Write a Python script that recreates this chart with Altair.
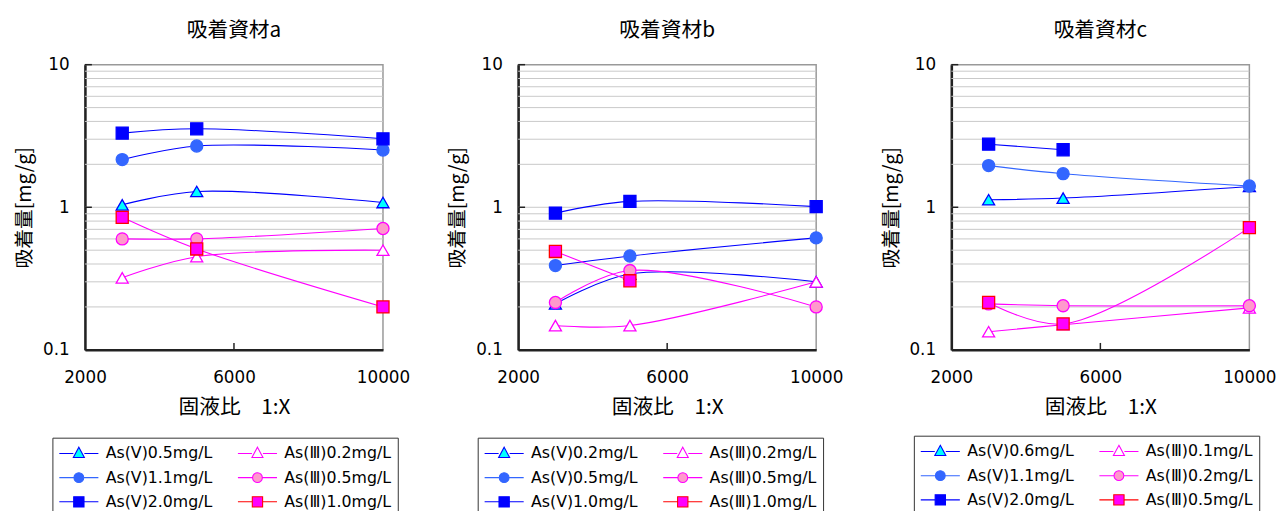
import altair as alt
import pandas as pd

# ---------------- data ----------------
x_vals = [3000, 5000, 10000]

# panel a
a_names = ["As(V)0.5mg/L", "As(V)1.1mg/L", "As(V)2.0mg/L", "As(Ⅲ)0.2mg/L", "As(Ⅲ)0.5mg/L", "As(Ⅲ)1.0mg/L"]
a_v05 = [1.04, 1.29, 1.08]
a_v11 = [2.16, 2.69, 2.52]
a_v20 = [3.31, 3.55, 3.02]
a_iii02 = [0.32, 0.45, 0.50]
a_iii05 = [0.60, 0.60, 0.71]
a_iii10 = [0.85, 0.51, 0.20]

# panel b
b_names = ["As(V)0.2mg/L", "As(V)0.5mg/L", "As(V)1.0mg/L", "As(Ⅲ)0.2mg/L", "As(Ⅲ)0.5mg/L", "As(Ⅲ)1.0mg/L"]
b_v02 = [0.21, 0.34, 0.30]
b_v05 = [0.39, 0.455, 0.61]
b_v10 = [0.91, 1.10, 1.01]
b_iii02 = [0.148, 0.148, 0.30]
b_iii05 = [0.215, 0.36, 0.20]
b_iii10 = [0.49, 0.305, None]

# panel c
c_names = ["As(V)0.6mg/L", "As(V)1.1mg/L", "As(V)2.0mg/L", "As(Ⅲ)0.1mg/L", "As(Ⅲ)0.2mg/L", "As(Ⅲ)0.5mg/L"]
c_v06 = [1.13, 1.16, 1.40]
c_v11 = [1.96, 1.72, 1.41]
c_v20 = [2.77, 2.53, None]
c_iii01 = [0.134, 0.15, 0.197]
c_iii02 = [0.21, 0.204, 0.204]
c_iii05 = [0.215, 0.152, 0.72]

titles = ["吸着資材a", "吸着資材b", "吸着資材c"]
y_ticks = [0.1, 1, 10]
x_ticks = [2000, 6000, 10000]
grid_vals = [0.2, 0.3, 0.4, 0.5, 0.6, 0.7, 0.8, 0.9, 1, 2, 3, 4, 5, 6, 7, 8, 9]

# styles (order: V-tri, V-circ, V-sq, III-tri, III-circ, III-sq)
line_cols = ["#0000FF", "#0000FF", "#0000FF", "#FF00FF", "#FF00FF", "#FF00FF"]
line_cols_c = ["#0000FF", "#3366FF", "#0000FF", "#FF00FF", "#FF00FF", "#FF00FF"]
fill_cols = ["#00FFFF", "#3366FF", "#0000FF", "#FFFFFF", "#FF99CC", "#FF00FF"]
stroke_cols = ["#0000FF", "#3366FF", "#0000FF", "#FF00FF", "#FF00FF", "#FF0000"]
shapes = ["triangle-up", "circle", "square", "triangle-up", "circle", "square"]

# legend glyphs: line segment with marker in the middle (marker centred at 1.2)
TRI = "M-1,0H0.58 M1.82,0H3.4 M1.2,-0.7L1.82,0.45L0.58,0.45Z"
CIR = "M-1,0H0.65 M1.75,0H3.4 M1.75,0A0.55,0.55 0 1,1 0.65,0A0.55,0.55 0 1,1 1.75,0Z"
SQ = "M-1,0H0.62 M1.78,0H3.4 M0.62,-0.58H1.78V0.58H0.62Z"
legend_paths = [TRI, CIR, SQ, TRI, CIR, SQ]

FONT = "Noto Sans CJK JP"
LFONT = "DejaVu Sans"

W, H = 302, 289


def make_df(names, series):
    rows = []
    for name, vals in zip(names, series):
        for xv, yv in zip(x_vals, vals):
            if yv is not None:
                rows.append({"x": xv, "y": yv, "series": name})
    return pd.DataFrame(rows)


def panel(title, names, series, lcols, scols, lx, ly):
    df = make_df(names, series)
    xs = alt.Scale(domain=[2000, 10000], nice=False, zero=False)
    ys = alt.Scale(type="log", domain=[0.1, 10], nice=False)

    xax = alt.Axis(values=x_ticks, title="固液比　1:X", grid=False, ticks=False,
                   domainColor="#222222", domainWidth=2.5, labelFontSize=17,
                   labelFont=LFONT, labelColor="#000", labelPadding=20,
                   titleFontSize=21, titleFont=FONT, titleFontWeight="normal",
                   titlePadding=11, titleColor="#000", format="d", labelFlush=False)
    yax = alt.Axis(values=y_ticks, title="吸着量[mg/g]", grid=False, ticks=False,
                   domainColor="#222222", domainWidth=2.5, labelFontSize=17,
                   labelFont=LFONT, labelColor="#000", labelPadding=16,
                   titleFontSize=20, titleFont=FONT, titleFontWeight="normal",
                   titlePadding=8, titleColor="#000",
                   labelExpr="datum.value >= 1 ? format(datum.value, 'd') : '0.1'")

    grid = alt.Chart(pd.DataFrame({"g": grid_vals})).mark_rule(
        color="#C8C8C8", strokeWidth=1
    ).encode(y=alt.Y("g:Q", scale=ys, axis=yax))

    yt = alt.Chart(pd.DataFrame({"t": y_ticks})).mark_rule(
        color="#222222", strokeWidth=1.5
    ).encode(
        y=alt.Y("t:Q", scale=ys, axis=yax),
        x=alt.value(0), x2=alt.value(7),
    )
    xt = alt.Chart(pd.DataFrame({"t": [6000]})).mark_rule(
        color="#222222", strokeWidth=1.5
    ).encode(
        x=alt.X("t:Q", scale=xs, axis=xax),
        y=alt.value(H), y2=alt.value(H - 7),
    )

    lines = alt.Chart(df).mark_line(strokeWidth=1.1, interpolate="catmull-rom").encode(
        x=alt.X("x:Q", scale=xs, axis=xax),
        y=alt.Y("y:Q", scale=ys, axis=yax),
        color=alt.Color("series:N", scale=alt.Scale(domain=names, range=lcols), legend=None),
        detail="series:N",
    )

    pts = alt.Chart(df).mark_point(filled=False, opacity=1, strokeWidth=1.3).encode(
        x=alt.X("x:Q", scale=xs, axis=xax),
        y=alt.Y("y:Q", scale=ys, axis=yax),
        shape=alt.Shape("series:N", scale=alt.Scale(domain=names, range=shapes), legend=None),
        fill=alt.Fill("series:N", scale=alt.Scale(domain=names, range=fill_cols), legend=None),
        stroke=alt.Stroke("series:N", scale=alt.Scale(domain=names, range=scols), legend=None),
        size=alt.value(150),
    )

    leg = alt.Chart(df.assign(lg=df["series"])).transform_filter("false").mark_point(
        filled=False, opacity=1, strokeWidth=1.1
    ).encode(
        x=alt.X("x:Q", scale=xs, axis=xax),
        y=alt.Y("y:Q", scale=ys, axis=yax),
        shape=alt.Shape("lg:N", scale=alt.Scale(domain=names, range=legend_paths),
                        legend=alt.Legend(title=None, orient="none", legendX=lx, legendY=ly,
                                          columns=2, strokeColor="#333333", padding=6,
                                          symbolSize=324, labelFontSize=16, labelFont=LFONT,
                                          labelColor="#000", labelOffset=28, columnPadding=22,
                                          rowPadding=6.5, symbolStrokeWidth=1.1,
                                          labelLimit=220, offset=0)),
        fill=alt.Fill("lg:N", scale=alt.Scale(domain=names, range=fill_cols)),
        stroke=alt.Stroke("lg:N", scale=alt.Scale(domain=names, range=scols)),
    )

    return alt.layer(grid, yt, xt, lines, pts, leg).resolve_scale(
        color="independent", shape="independent", fill="independent", stroke="independent"
    ).properties(
        width=W, height=H,
        title=alt.Title(title, fontSize=21, font=FONT, fontWeight="normal", offset=15, color="#000"),
    )


pa = panel(titles[0], a_names, [a_v05, a_v11, a_v20, a_iii02, a_iii05, a_iii10],
           line_cols, stroke_cols, -33, 378)
pb = panel(titles[1], b_names, [b_v02, b_v05, b_v10, b_iii02, b_iii05, b_iii10],
           line_cols, stroke_cols, -41, 378)
pc = panel(titles[2], c_names, [c_v06, c_v11, c_v20, c_iii01, c_iii02, c_iii05],
           line_cols_c, stroke_cols, -38, 376)

chart = alt.hconcat(pa, pb, pc, spacing=137, bounds="flush").resolve_scale(
    color="independent", shape="independent", fill="independent", stroke="independent",
    x="independent", y="independent"
).resolve_legend(
    shape="independent", fill="independent", stroke="independent", color="independent"
).configure_view(
    stroke="#999999", strokeWidth=1.5
).properties(padding={"left": 6, "top": 8, "right": 0, "bottom": 0})

chart.save("out.html", embed_options={"renderer": "svg", "actions": False})
